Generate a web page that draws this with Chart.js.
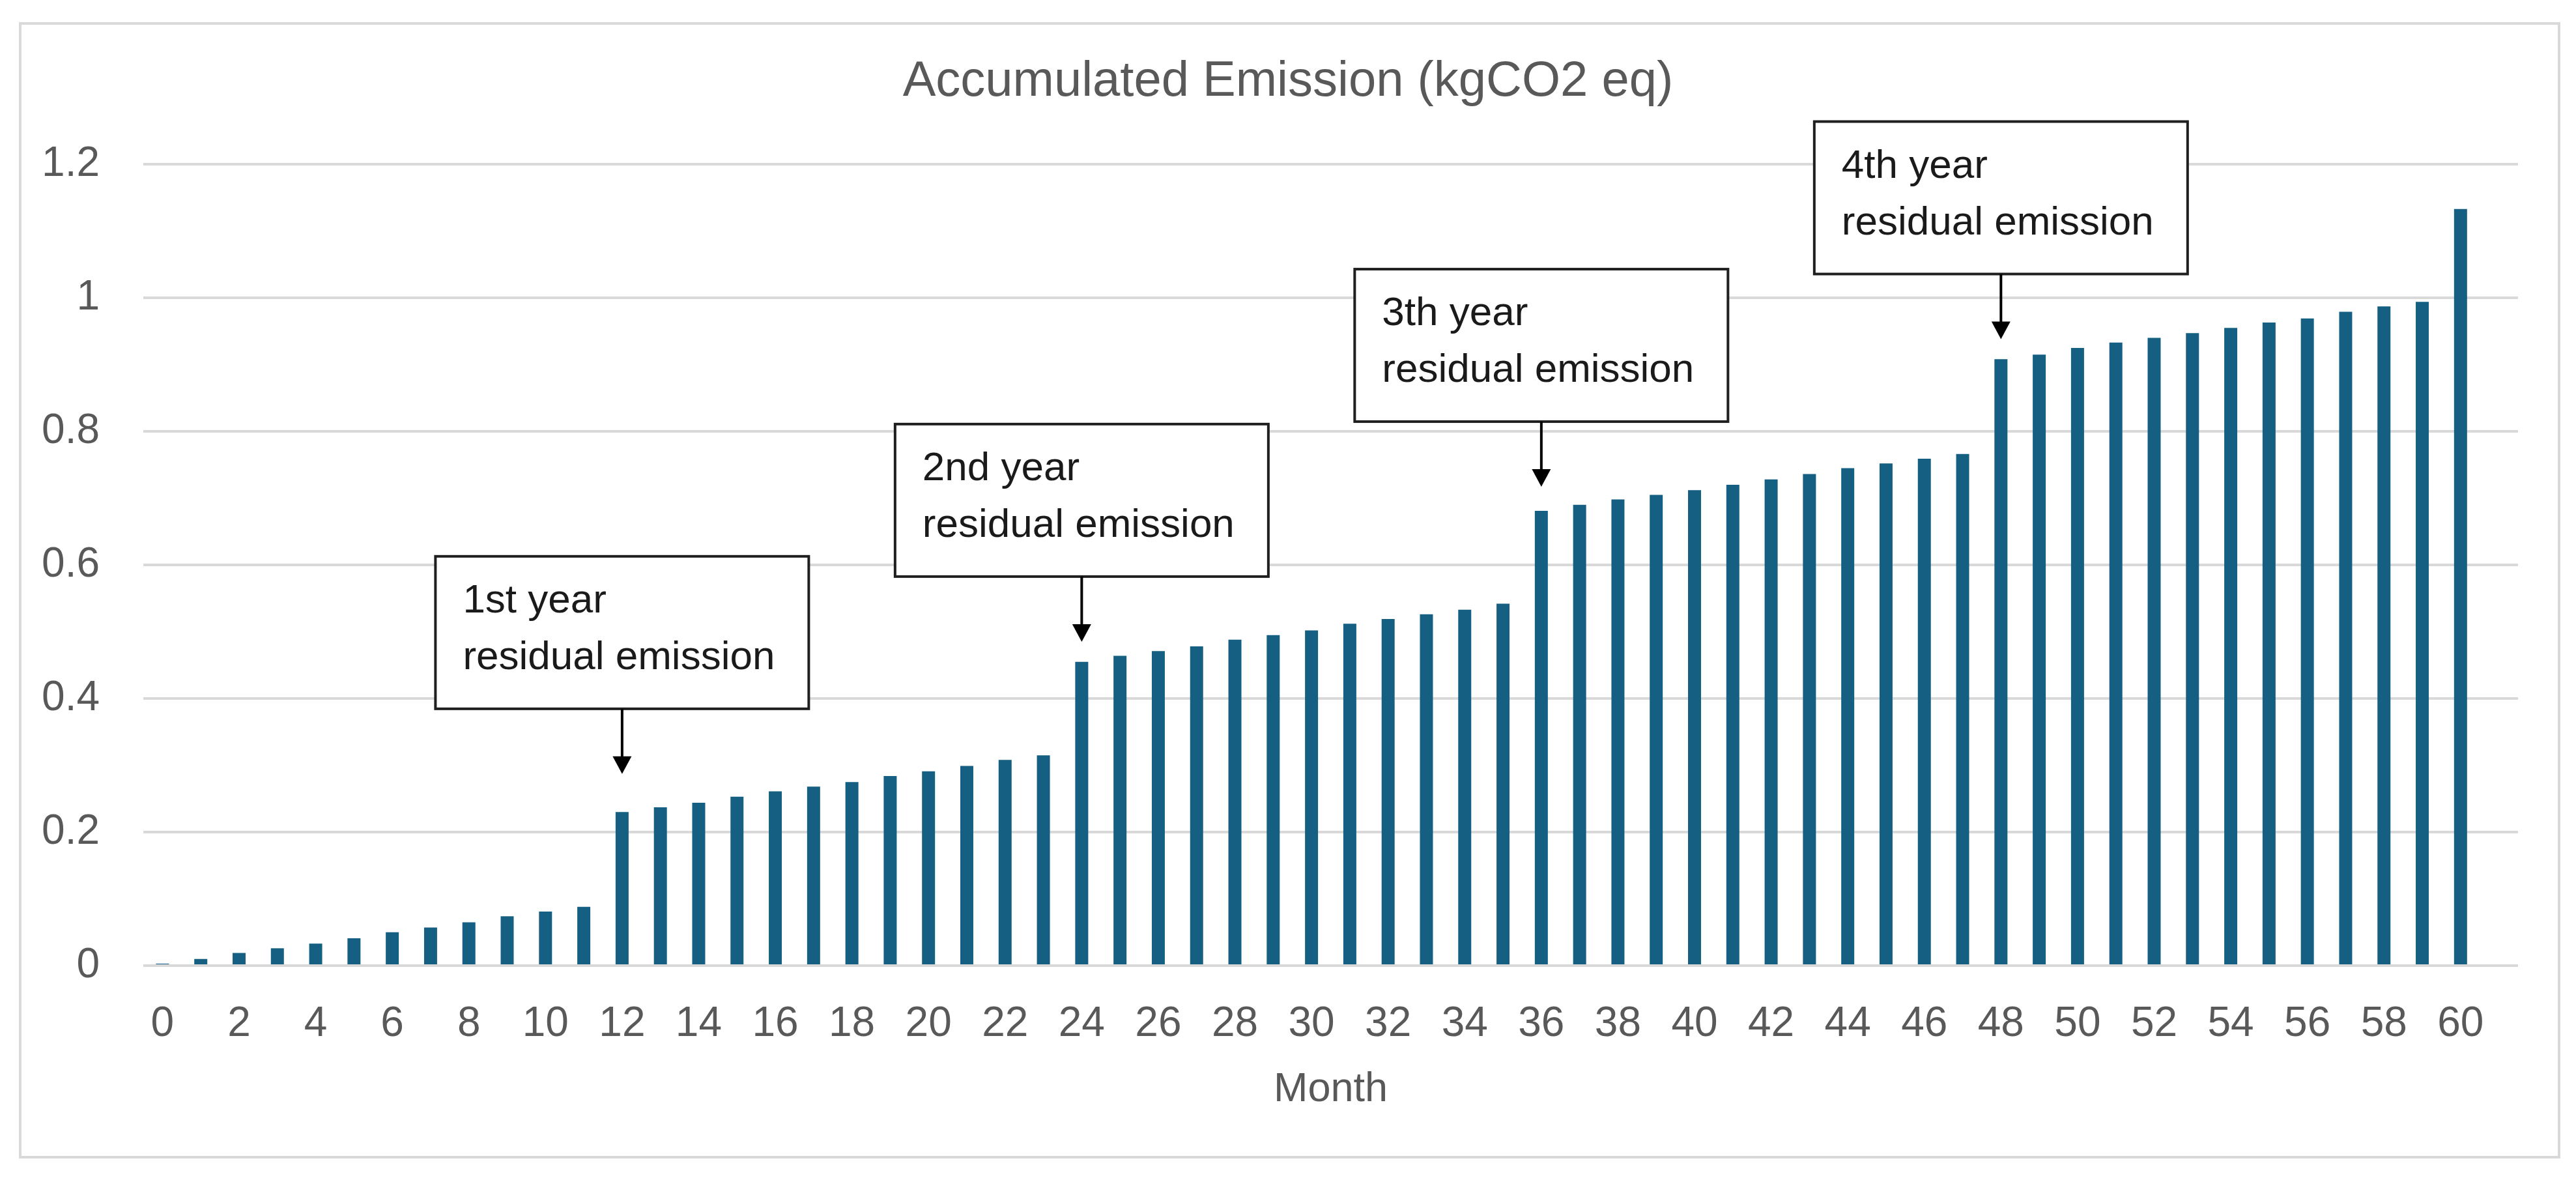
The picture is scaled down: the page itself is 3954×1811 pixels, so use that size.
<!DOCTYPE html>
<html>
<head>
<meta charset="utf-8">
<title>Accumulated Emission</title>
<script src="https://cdn.jsdelivr.net/npm/chart.js@4.4.1/dist/chart.umd.min.js"></script>
<style>
  html, body { margin: 0; padding: 0; background: #ffffff; }
  canvas { display: block; }
</style>
</head>
<body>
<canvas id="emissionChart" width="3954" height="1811" style="width:3954px;height:1811px"></canvas>
<script>
// month index of every bar
const months = [
  0, 1, 2, 3, 4, 5, 6, 7, 8, 9, 10, 11,
  12, 13, 14, 15, 16, 17, 18, 19, 20, 21, 22, 23,
  24, 25, 26, 27, 28, 29, 30, 31, 32, 33, 34, 35,
  36, 37, 38, 39, 40, 41, 42, 43, 44, 45, 46, 47,
  48, 49, 50, 51, 52, 53, 54, 55, 56, 57, 58, 59,
  60
];

// accumulated emission, kgCO2 eq
const emission = [
  0.003, 0.010, 0.019, 0.026, 0.033, 0.041, 0.050, 0.057, 0.065, 0.074, 0.081, 0.088,
  0.230, 0.237, 0.244, 0.253, 0.261, 0.268, 0.275, 0.284, 0.291, 0.299, 0.308, 0.315,
  0.455, 0.464, 0.471, 0.478, 0.488, 0.495, 0.502, 0.512, 0.519, 0.526, 0.533, 0.542,
  0.681, 0.690, 0.698, 0.705, 0.712, 0.720, 0.728, 0.736, 0.745, 0.752, 0.759, 0.766,
  0.908, 0.915, 0.925, 0.933, 0.940, 0.947, 0.955, 0.963, 0.969, 0.979, 0.987, 0.994,
  1.133
];

const xTickLabels = [0, 2, 4, 6, 8, 10, 12, 14, 16, 18, 20, 22, 24, 26, 28, 30,
  32, 34, 36, 38, 40, 42, 44, 46, 48, 50, 52, 54, 56, 58, 60];
const yTickValues = [0, 0.2, 0.4, 0.6, 0.8, 1, 1.2];

// callouts: which month they point at, and the value the arrow tip sits at
const noteMonths = [12, 24, 36, 48];
const noteTips = [0.287, 0.485, 0.717, 0.938];
const noteLines = [
  ["1st year", "residual emission"],
  ["2nd year", "residual emission"],
  ["3th year", "residual emission"],
  ["4th year", "residual emission"]
];

const FONT = "'Liberation Sans', Arial, sans-serif";
const GREY_TEXT = "#595959";
const GRID = "#d9d9d9";

const framePlugin = {
  id: "frame",
  afterLayout(chart) {
    // centre the title on the whole picture, not only the layout box
    if (chart.titleBlock) {
      chart.titleBlock.left = 0;
      chart.titleBlock.right = chart.width;
    }
  },
  beforeDraw(chart) {
    const ctx = chart.ctx;
    ctx.save();
    ctx.fillStyle = "#ffffff";
    ctx.fillRect(0, 0, chart.width, chart.height);
    ctx.strokeStyle = GRID;
    ctx.lineWidth = 4;
    ctx.strokeRect(31, 36, 3897, 1740);
    ctx.restore();
  }
};

const calloutPlugin = {
  id: "callouts",
  afterDatasetsDraw(chart) {
    const ctx = chart.ctx;
    const xs = chart.scales.x;
    const ys = chart.scales.y;
    const boxW = 573, boxH = 234, arrowLen = 100, headH = 27, headW = 29;

    ctx.save();
    noteMonths.forEach((m, i) => {
      const x = xs.getPixelForValue(m);
      const tipY = ys.getPixelForValue(noteTips[i]);
      const boxBottom = tipY - arrowLen;
      const left = x - boxW / 2;
      const top = boxBottom - boxH;

      ctx.fillStyle = "#ffffff";
      ctx.fillRect(left, top, boxW, boxH);
      ctx.strokeStyle = "#1f1f1f";
      ctx.lineWidth = 4;
      ctx.strokeRect(left, top, boxW, boxH);

      ctx.fillStyle = "#1a1a1a";
      ctx.font = "62px " + FONT;
      ctx.textAlign = "left";
      ctx.textBaseline = "alphabetic";
      ctx.fillText(noteLines[i][0], left + 42, top + 86);
      ctx.fillText(noteLines[i][1], left + 42, top + 173);

      // arrow
      ctx.strokeStyle = "#000000";
      ctx.lineWidth = 4;
      ctx.beginPath();
      ctx.moveTo(x, boxBottom);
      ctx.lineTo(x, tipY - headH + 2);
      ctx.stroke();
      ctx.fillStyle = "#000000";
      ctx.beginPath();
      ctx.moveTo(x - headW / 2, tipY - headH);
      ctx.lineTo(x + headW / 2, tipY - headH);
      ctx.lineTo(x, tipY);
      ctx.closePath();
      ctx.fill();
    });
    ctx.restore();
  }
};

new Chart(document.getElementById("emissionChart"), {
  type: "bar",
  data: {
    datasets: [{
      label: "Accumulated Emission (kgCO2 eq)",
      data: months.map((m, i) => ({ x: m, y: emission[i] })),
      backgroundColor: "#156082",
      borderWidth: 0,
      categoryPercentage: 1,
      barPercentage: 0.34
    }]
  },
  options: {
    responsive: false,
    devicePixelRatio: 1,
    animation: false,
    layout: { padding: { top: 0, left: 0, right: 89, bottom: 0 } },
    plugins: {
      legend: { display: false },
      tooltip: { enabled: false },
      title: {
        display: true,
        text: "Accumulated Emission (kgCO2 eq)",
        color: GREY_TEXT,
        font: { family: FONT, size: 76, weight: "normal", lineHeight: 1 },
        padding: { top: 88, bottom: 88 }
      }
    },
    scales: {
      x: {
        type: "linear",
        min: -0.5,
        max: 61.5,
        offset: false,
        grid: { display: false, drawTicks: false },
        border: { display: false },
        afterBuildTicks: (scale) => {
          scale.ticks = xTickLabels.map(v => ({ value: v }));
        },
        afterFit: (scale) => { scale.height = 329; },
        ticks: {
          autoSkip: false,
          maxRotation: 0,
          padding: 52,
          color: GREY_TEXT,
          font: { family: FONT, size: 64 },
          callback: (v) => String(v)
        },
        title: {
          display: true,
          text: "Month",
          color: GREY_TEXT,
          font: { family: FONT, size: 63 },
          padding: { top: 0, bottom: 101 }
        }
      },
      y: {
        min: 0,
        max: 1.2,
        grid: { color: GRID, lineWidth: 4, drawTicks: false },
        border: { display: false },
        afterBuildTicks: (scale) => {
          scale.ticks = yTickValues.map(v => ({ value: v }));
        },
        afterFit: (scale) => { scale.width = 220; },
        ticks: {
          padding: 67,
          color: GREY_TEXT,
          font: { family: FONT, size: 64 },
          callback: (v) => String(v)
        }
      }
    }
  },
  plugins: [framePlugin, calloutPlugin]
});
</script>
</body>
</html>
